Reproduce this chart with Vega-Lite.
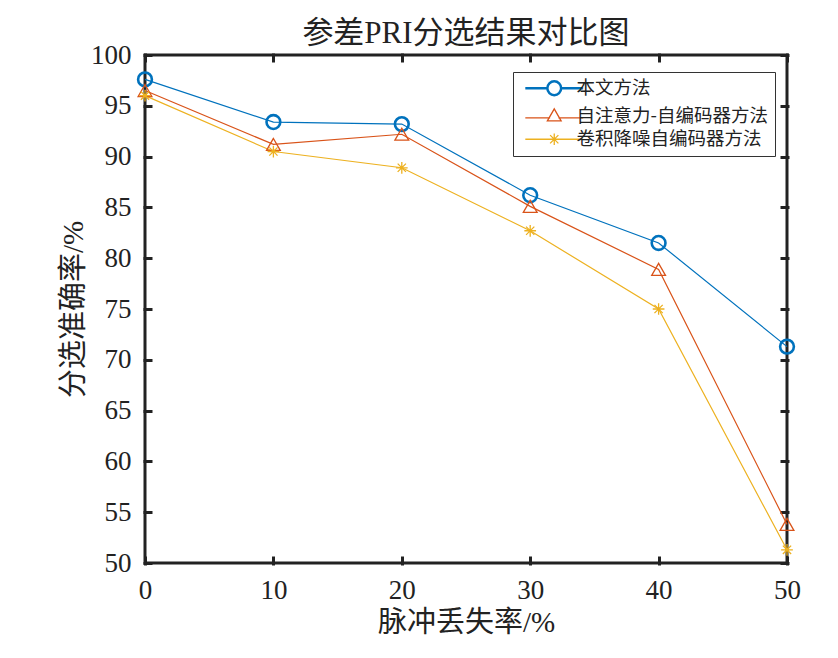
{
  "$schema": "https://vega.github.io/schema/vega-lite/v6.json",
  "autosize": {"type": "none"},
  "width": 642,
  "height": 508,
  "padding": {"left": 145, "top": 55, "right": 51, "bottom": 95},
  "background": "white",
  "title": {"text": "参差PRI分选结果对比图", "font": "Liberation Serif, Noto Sans CJK SC", "fontSize": 31, "fontWeight": "normal", "color": "#222", "offset": -9, "anchor": "middle", "frame": "group"},
  "config": {
    "view": {"stroke": "#222", "strokeWidth": 3},
    "axis": {"grid": false, "domain": false, "labelFlush": false, "labelFont": "Liberation Serif", "labelFontSize": 27, "labelColor": "#222", "titleFont": "Liberation Serif, Noto Sans CJK SC", "titleFontSize": 29, "titleFontWeight": "normal", "titleColor": "#222", "ticks": true, "tickColor": "#222222", "tickWidth": 3, "tickSize": 9, "offset": -7, "zindex": 1}
  },
  "data": {"values": [
    {"loss": 0, "acc": 97.6, "method": "本文方法"},
    {"loss": 10, "acc": 93.4, "method": "本文方法"},
    {"loss": 20, "acc": 93.2, "method": "本文方法"},
    {"loss": 30, "acc": 86.2, "method": "本文方法"},
    {"loss": 40, "acc": 81.5, "method": "本文方法"},
    {"loss": 50, "acc": 71.3, "method": "本文方法"},
    {"loss": 0, "acc": 96.5, "method": "自注意力-自编码器方法"},
    {"loss": 10, "acc": 91.2, "method": "自注意力-自编码器方法"},
    {"loss": 20, "acc": 92.2, "method": "自注意力-自编码器方法"},
    {"loss": 30, "acc": 85.1, "method": "自注意力-自编码器方法"},
    {"loss": 40, "acc": 78.9, "method": "自注意力-自编码器方法"},
    {"loss": 50, "acc": 53.8, "method": "自注意力-自编码器方法"},
    {"loss": 0, "acc": 96.0, "method": "卷积降噪自编码器方法"},
    {"loss": 10, "acc": 90.5, "method": "卷积降噪自编码器方法"},
    {"loss": 20, "acc": 88.9, "method": "卷积降噪自编码器方法"},
    {"loss": 30, "acc": 82.7, "method": "卷积降噪自编码器方法"},
    {"loss": 40, "acc": 75.0, "method": "卷积降噪自编码器方法"},
    {"loss": 50, "acc": 51.3, "method": "卷积降噪自编码器方法"}
  ]},
  "layer": [
    {
      "mark": {"type": "line", "strokeWidth": 1.2},
      "encoding": {
        "x": {"field": "loss", "type": "quantitative", "scale": {"domain": [0, 50], "nice": false}, "axis": {"values": [0, 10, 20, 30, 40, 50], "title": "脉冲丢失率/%", "labelPadding": 12, "titlePadding": 5}},
        "y": {"field": "acc", "type": "quantitative", "scale": {"domain": [50, 100], "nice": false, "zero": false}, "axis": {"values": [50, 55, 60, 65, 70, 75, 80, 85, 90, 95, 100], "title": "分选准确率/%", "labelPadding": 12, "titlePadding": 2}},
        "color": {"field": "method", "type": "nominal", "sort": ["本文方法", "自注意力-自编码器方法", "卷积降噪自编码器方法"], "scale": {"domain": ["本文方法", "自注意力-自编码器方法", "卷积降噪自编码器方法"], "range": ["#0072BD", "#D95319", "#EDB120"]},
          "legend": {"orient": "none", "legendX": 368, "legendY": 17, "title": null, "strokeColor": "#333", "fillColor": "white", "padding": 7, "labelFont": "Noto Sans CJK SC", "labelFontSize": 18.5, "labelLimit": 400, "labelColor": "#222", "rowPadding": 4.5, "symbolSize": 190, "labelOffset": 13, "symbolOffset": 25, "symbolFillColor": "transparent",
            "encode": {"symbols": {"update": {
              "shape": {"signal": "datum.value === '本文方法' ? 'M-4.2,0L-1,0M1,0L4.2,0M-1,0A1,1,0,1,1,1,0A1,1,0,1,1,-1,0' : datum.value === '自注意力-自编码器方法' ? 'M-4.2,0.3L-0.6,0.3M0.6,0.3L4.2,0.3M0,-1L1,0.75L-1,0.75Z' : 'M-4.2,0L4.2,0M0,-0.85L0,0.85M-0.6,-0.6L0.6,0.6M-0.6,0.6L0.6,-0.6'"},
              "strokeWidth": {"signal": "datum.value === '本文方法' ? 2.5 : 1.3"},
              "fill": {"value": "transparent"},
              "opacity": {"value": 1}
            }}}
          }}
      }
    },
    {
      "mark": {"type": "point", "filled": false, "size": 190, "opacity": 1},
      "encoding": {
        "x": {"field": "loss", "type": "quantitative", "axis": {"orient": "top", "values": [0, 10, 20, 30, 40, 50], "labels": false, "title": null}},
        "y": {"field": "acc", "type": "quantitative", "axis": {"orient": "right", "values": [50, 55, 60, 65, 70, 75, 80, 85, 90, 95, 100], "labels": false, "title": null}},
        "color": {"field": "method", "type": "nominal", "sort": ["本文方法", "自注意力-自编码器方法", "卷积降噪自编码器方法"]},
        "shape": {"condition": [{"test": "datum.method === '本文方法'", "value": "circle"}, {"test": "datum.method === '自注意力-自编码器方法'", "value": "triangle-up"}], "value": "M-0.85,0L0.85,0M0,-0.85L0,0.85M-0.6,-0.6L0.6,0.6M-0.6,0.6L0.6,-0.6"},
        "strokeWidth": {"condition": {"test": "datum.method === '本文方法'", "value": 2.6}, "value": 1.3}
      }
    }
  ],
  "resolve": {"axis": {"x": "independent", "y": "independent"}}
}
